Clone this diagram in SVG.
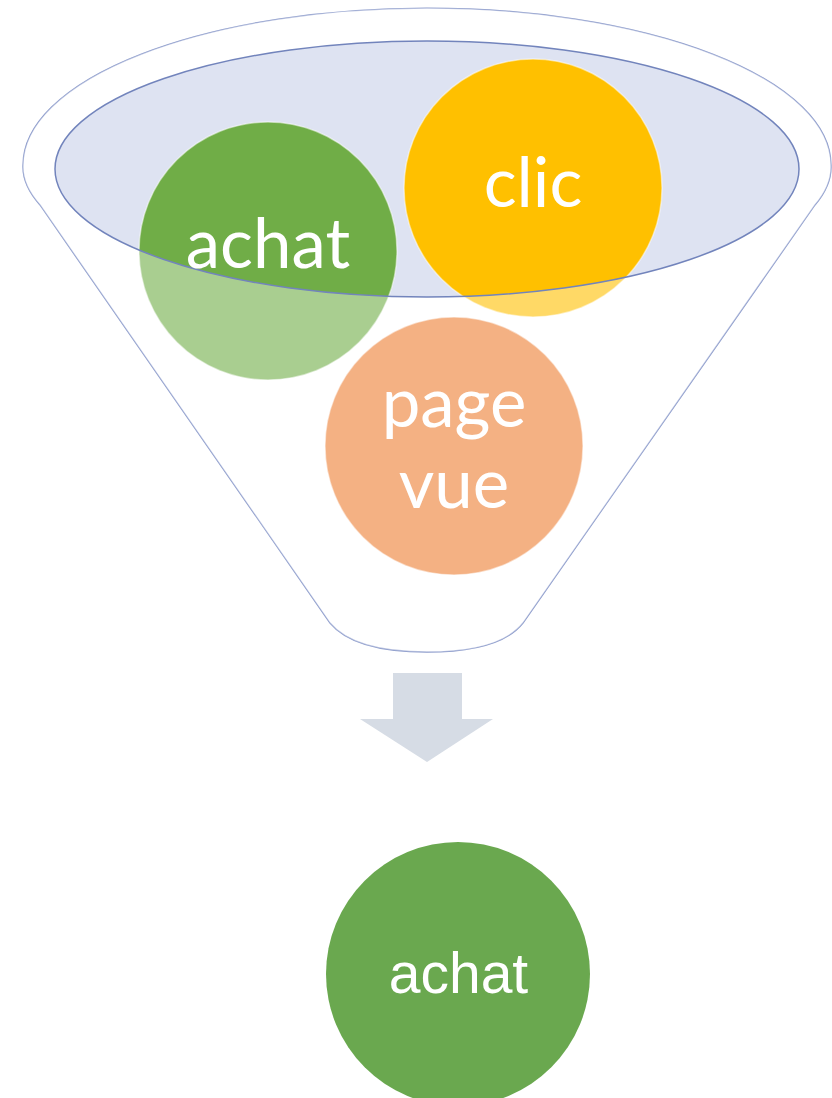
<svg xmlns="http://www.w3.org/2000/svg" width="832" height="1098" viewBox="0 0 832 1098">
<style>
.funnelText{font-family:Lato,"Open Sans","Noto Sans",sans-serif;font-size:69px;fill:#ffffff;text-anchor:middle}
.outText{font-family:"Liberation Sans",Arial,sans-serif;font-size:57px;fill:#ffffff;text-anchor:middle}
.ball{stroke:#ffffff;stroke-opacity:0.5;stroke-width:1.5}
</style>
<defs>
<clipPath id="bodyClip">
<path d="M40,205 Q22,185 23,165 A404 157 0 0 1 831,165 Q832,185 815,205 L523,623 Q500,652 427,652 Q354,652 330,623 Z"/>
</clipPath>
</defs>
<rect width="832" height="1098" fill="#ffffff"/>
<g id="funnel">
<path d="M40,205 Q22,185 23,165 A404 157 0 0 1 831,165 Q832,185 815,205 L523,623 Q500,652 427,652 Q354,652 330,623 Z" fill="#ffffff" stroke="#8C9BCB" stroke-width="1.3"/>
<ellipse cx="427" cy="169" rx="372" ry="128" fill="#DEE3F2"/>
</g>
<g id="node-achat">
<circle class="ball" cx="268" cy="251" r="129" fill="#70AD47"/>
</g>
<g id="node-clic">
<circle class="ball" cx="533" cy="188" r="129" fill="#FFC000"/>
</g>
<g id="node-pagevue">
<circle class="ball" cx="454" cy="446" r="129" fill="#ED7D31"/>
</g>
<g id="funnel-overlay">
<path fill-rule="evenodd" fill="#ffffff" fill-opacity="0.4" d="M40,205 Q22,185 23,165 A404 157 0 0 1 831,165 Q832,185 815,205 L523,623 Q500,652 427,652 Q354,652 330,623 Z M55,169 A372 128 0 0 0 799,169 A372 128 0 0 0 55,169 Z"/>
<ellipse cx="427" cy="169" rx="372" ry="128" fill="none" stroke="#7284BC" stroke-width="1.5"/>
</g>
<g id="labels">
<text class="funnelText" x="268" y="268">achat</text>
<text class="funnelText" x="533" y="207">clic</text>
<text class="funnelText" x="454" y="427">page</text>
<text class="funnelText" x="454" y="508">vue</text>
</g>
<g id="connectors">
<path d="M393,673 L462,673 L462,719 L493,719 L427,762 L360,719 L393,719 Z" fill="#D6DCE5"/>
</g>
<g id="node-result">
<circle cx="458" cy="974" r="132" fill="#6AA84F"/>
<text class="outText" x="458.5" y="993">achat</text>
</g>
</svg>
